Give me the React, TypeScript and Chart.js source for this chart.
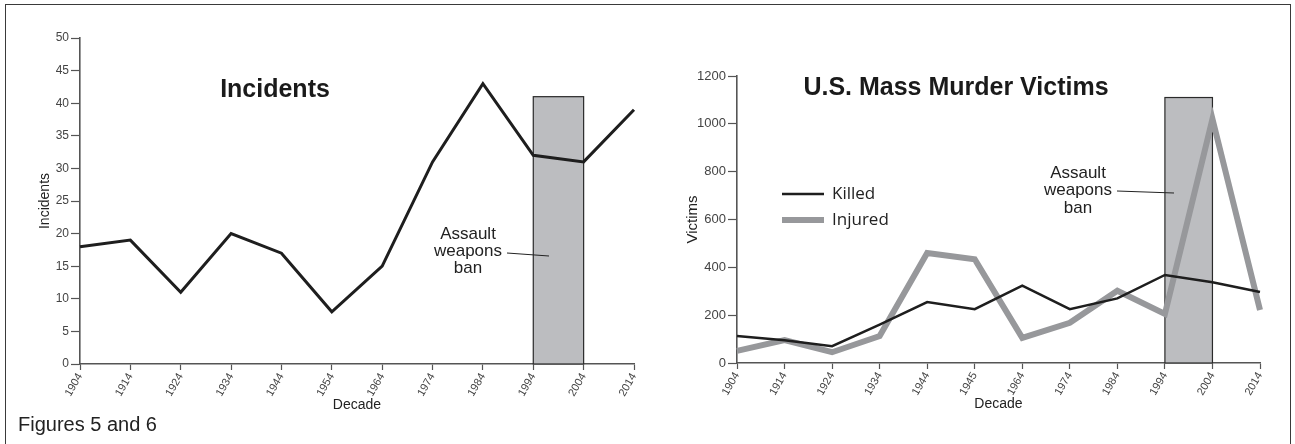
import React, { useEffect, useRef } from "react";
import { Chart, registerables } from "chart.js";
Chart.register(...registerables);

const incidentYears = ["1904", "1914", "1924", "1934", "1944", "1954", "1964", "1974", "1984", "1994", "2004", "2014"];
const incidents = [18, 19, 11, 20, 17, 8, 15, 31, 43, 32, 31, 39];
const victimYears = ["1904", "1914", "1924", "1934", "1944", "1945", "1964", "1974", "1984", "1994", "2004", "2014"];
const killed = [113, 95, 70, 160, 255, 225, 323, 225, 270, 368, 338, 297];
const injured = [51, 96, 45, 113, 460, 434, 105, 168, 302, 205, 1020, 222];
const banStartIndex = 9;
const banEndIndex = 10;
const incidentBanTop = 41;
const victimBanTop = 1110;
const annotationLines = ["Assault", "weapons", "ban"];
const legendLabels = ["Killed", "Injured"];

const TXT = "#222";
const AX = "#555";

const decorPlugin = {
  id: "decor",
  beforeDatasetsDraw(chart: any, _a: any, o: any) {
    const { ctx, scales } = chart;
    const x = scales.x, y = scales.y;
    const x0 = x.getPixelForValue(o.banStart);
    const x1 = x.getPixelForValue(o.banEnd);
    const yt = y.getPixelForValue(o.banTop);
    const yb = y.getPixelForValue(0);
    ctx.save();
    ctx.fillStyle = "#bcbdc0";
    ctx.fillRect(x0, yt, x1 - x0, yb - yt);
    ctx.strokeStyle = "#2a2a2a";
    ctx.lineWidth = 1.2;
    ctx.strokeRect(x0, yt, x1 - x0, yb - yt);
    ctx.restore();
  },
  afterDraw(chart: any, _a: any, o: any) {
    const { ctx } = chart;
    ctx.save();
    ctx.fillStyle = "#1a1a1a";
    ctx.font = "bold 25px 'Liberation Sans', Arial, sans-serif";
    ctx.textAlign = "center";
    ctx.textBaseline = "middle";
    ctx.fillText(o.title, o.titleX, o.titleY);
    ctx.fillStyle = TXT;
    ctx.font = "17px 'Liberation Sans', Arial, sans-serif";
    annotationLines.forEach((t, i) => {
      ctx.fillText(t, o.annX, o.annY + i * o.annGap);
    });
    ctx.strokeStyle = "#222";
    ctx.lineWidth = 1;
    ctx.beginPath();
    ctx.moveTo(o.leadX0, o.leadY0);
    ctx.lineTo(o.leadX1, o.leadY1);
    ctx.stroke();
    if (o.legend) {
      const ds = chart.data.datasets;
      legendLabels.forEach((lab, i) => {
        const yy = o.legY + i * 26;
        ctx.strokeStyle = ds[i].borderColor;
        ctx.lineWidth = ds[i].borderWidth;
        ctx.beginPath();
        ctx.moveTo(o.legX, yy);
        ctx.lineTo(o.legX + 42, yy);
        ctx.stroke();
        ctx.fillStyle = TXT;
        ctx.font = "17px 'Open Sans', sans-serif";
        ctx.textAlign = "left";
        ctx.fillText(lab, o.legX + 50, yy);
      });
    }
    ctx.restore();
  },
};

function axes(yMax: number, step: number, yTitle: string, yW: number, yTitlePad: number, tickSize: number, yTitleSize: number) {
  return {
    x: {
      type: "category" as const,
      offset: false,
      afterFit: (s: any) => { s.height = 60; },
      grid: { drawOnChartArea: false, drawTicks: true, tickLength: 6, tickColor: AX, tickWidth: 1.2 },
      border: { display: true, color: AX, width: 1.6 },
      ticks: { autoSkip: false, minRotation: 60, maxRotation: 60, padding: 1, color: "#444", font: { size: 11, family: "'Liberation Sans', Arial, sans-serif" } },
      title: { display: true, text: "Decade", color: TXT, font: { size: 14, family: "'Liberation Sans', Arial, sans-serif" }, padding: { top: 0, bottom: 10 } },
    },
    y: {
      min: 0,
      max: yMax,
      afterFit: (s: any) => { s.width = yW; },
      grid: { drawOnChartArea: false, drawTicks: true, tickLength: 9, tickColor: AX, tickWidth: 1.2 },
      border: { display: true, color: AX, width: 1.6 },
      ticks: { stepSize: step, padding: 2, color: "#444", font: { size: tickSize, family: "'Liberation Sans', Arial, sans-serif" }, callback: (v: any) => String(v) },
      title: { display: true, text: yTitle, color: TXT, font: { size: yTitleSize, family: "'Liberation Sans', Arial, sans-serif" }, padding: { top: yTitlePad, bottom: 0 } },
    },
  };
}

function IncidentsChart() {
  const ref = useRef<HTMLCanvasElement>(null);
  useEffect(() => {
    const c = new Chart(ref.current!, {
      type: "line",
      data: {
        labels: incidentYears,
        datasets: [{ data: incidents, borderColor: "#1e1e1e", borderWidth: 3, pointRadius: 0, tension: 0, fill: false }],
      },
      options: {
        responsive: false,
        animation: false,
        layout: { padding: { left: 0, top: 38, right: 26, bottom: 20 } },
        scales: axes(50, 5, "Incidents", 80, 37, 12, 14) as any,
        plugins: {
          legend: { display: false },
          tooltip: { enabled: false },
          decor: {
            banStart: banStartIndex, banEnd: banEndIndex, banTop: incidentBanTop,
            title: "Incidents", titleX: 275, titleY: 90,
            annX: 468, annY: 234, annGap: 17,
            leadX0: 507, leadY0: 253, leadX1: 549, leadY1: 256,
            legend: false,
          },
        } as any,
      },
      plugins: [decorPlugin],
    });
    return () => c.destroy();
  }, []);
  return <canvas ref={ref} width={660} height={444} style={{ width: 660, height: 444 }} />;
}

function VictimsChart() {
  const ref = useRef<HTMLCanvasElement>(null);
  useEffect(() => {
    const c = new Chart(ref.current!, {
      type: "line",
      data: {
        labels: victimYears,
        datasets: [
          { data: killed, borderColor: "#1e1e1e", borderWidth: 2.5, pointRadius: 0, tension: 0, fill: false },
          { data: injured, borderColor: "#97989b", borderWidth: 6, pointRadius: 0, tension: 0, fill: false },
        ],
      },
      options: {
        responsive: false,
        animation: false,
        layout: { padding: { left: 0, top: 76, right: 35, bottom: 21 } },
        scales: axes(1200, 200, "Victims", 77, 24, 13, 15) as any,
        plugins: {
          legend: { display: false },
          tooltip: { enabled: false },
          decor: {
            banStart: banStartIndex, banEnd: banEndIndex, banTop: victimBanTop,
            title: "U.S. Mass Murder Victims", titleX: 296, titleY: 88,
            annX: 418, annY: 173, annGap: 17.5,
            leadX0: 457, leadY0: 191, leadX1: 514, leadY1: 193,
            legend: true, legX: 122, legY: 194,
          },
        } as any,
      },
      plugins: [decorPlugin],
    });
    return () => c.destroy();
  }, []);
  return <canvas ref={ref} width={635} height={444} style={{ width: 635, height: 444 }} />;
}

export default function App() {
  return (
    <div style={{ position: "absolute", left: 0, top: 0, width: 1295, height: 444, overflow: "hidden", background: "#fff" }}>
      <div style={{ position: "absolute", left: 5, top: 4, width: 1284, height: 460, border: "1.5px solid #3a3a3a" }} />
      <div style={{ position: "absolute", left: 0, top: 0 }}><IncidentsChart /></div>
      <div style={{ position: "absolute", left: 660, top: 0 }}><VictimsChart /></div>
      <div style={{ position: "absolute", left: 18, top: 413, fontFamily: "'Liberation Sans', Arial, sans-serif", fontSize: 20, color: TXT, whiteSpace: "nowrap" }}>Figures 5 and 6</div>
    </div>
  );
}
